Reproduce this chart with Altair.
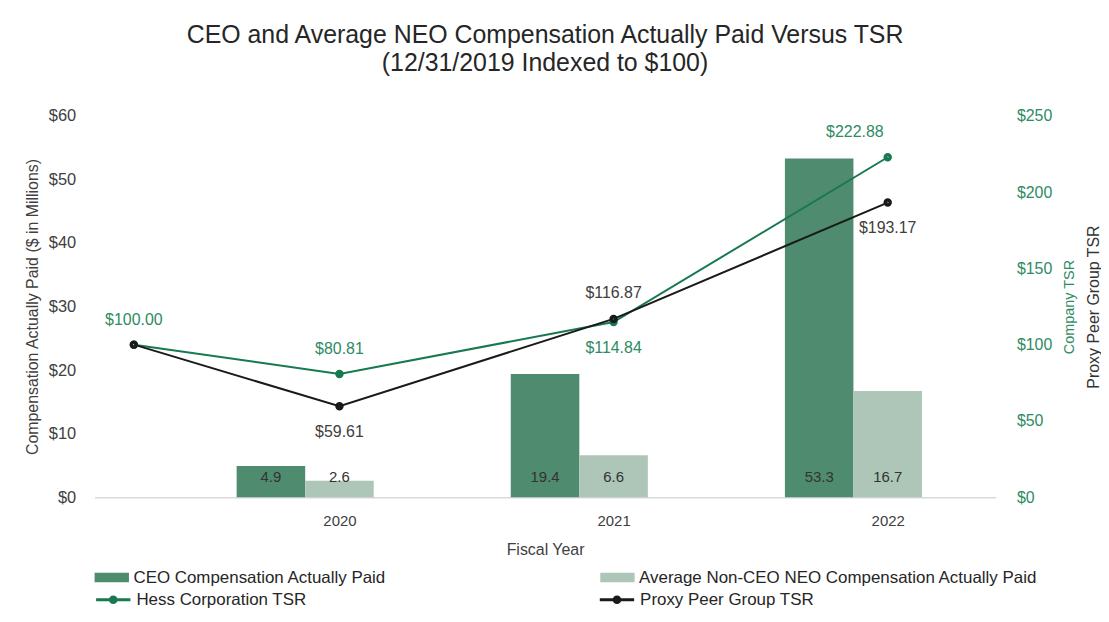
import altair as alt
import pandas as pd

# ---- data ----
years = [2020, 2021, 2022]
ceo_cap = [4.9, 19.4, 53.3]
neo_cap = [2.6, 6.6, 16.7]
tsr_years = [2019, 2020, 2021, 2022]
hess_tsr = [100.00, 80.81, 114.84, 222.88]
peer_tsr = [100.00, 59.61, 116.87, 193.17]

CEO = "CEO Compensation Actually Paid"
NEO = "Average Non-CEO NEO Compensation Actually Paid"
HESS = "Hess Corporation TSR"
PEER = "Proxy Peer Group TSR"

bars = pd.DataFrame(
    [{"year": y, "series": CEO, "value": v} for y, v in zip(years, ceo_cap)]
    + [{"year": y, "series": NEO, "value": v} for y, v in zip(years, neo_cap)]
)
tsr = pd.DataFrame(
    [{"year": y, "series": HESS, "value": v} for y, v in zip(tsr_years, hess_tsr)]
    + [{"year": y, "series": PEER, "value": v} for y, v in zip(tsr_years, peer_tsr)]
)

W, H = 905, 383
FONT = "Liberation Sans"
TXT = "#404040"
GREEN_TXT = "#2E8B62"
XDOM = [2019.125, 2022.375]

xscale = alt.Scale(domain=XDOM, nice=False, zero=False)
yl = alt.Scale(domain=[0, 60], nice=False)
yr = alt.Scale(domain=[0, 250], nice=False)

BAR_PATH = "M-1,-0.42L2,-0.42L2,0.42L-1,0.42Z"
LINE_PATH = "M-1,0L2,0M0.25,0A0.25,0.25 0 1,0 0.75,0A0.25,0.25 0 1,0 0.25,0Z"

# identical x axis in every layer so that the shared axis merges cleanly
x_axis = alt.Axis(values=years, format="d", title="Fiscal Year",
                  labelFontSize=15, labelColor=TXT, labelPadding=16,
                  titleFontSize=16, titleColor=TXT, titleFontWeight="normal",
                  titlePadding=14, ticks=False, grid=False,
                  domainColor="#D9D9D9", domainWidth=1.5, orient="bottom")

fill_enc = alt.Fill(
    "series:N",
    scale=alt.Scale(domain=[CEO, NEO], range=["#4F8B6F", "#ADC6B8"]),
    legend=alt.Legend(
        title=None, orient="none", legendX=0, legendY=452,
        direction="horizontal", columns=2, columnPadding=214,
        symbolType=BAR_PATH, symbolSize=529, symbolStrokeWidth=0,
        labelFontSize=17, labelColor="#262626",
        labelOffset=16, labelLimit=500, padding=0,
    ),
)

stroke_enc = alt.Stroke(
    "series:N",
    scale=alt.Scale(domain=[HESS, PEER], range=["#17794F", "#1A1A1A"]),
    legend=alt.Legend(
        title=None, orient="none", legendX=0, legendY=473,
        direction="horizontal", columns=2, columnPadding=287,
        symbolType=LINE_PATH, symbolSize=529, symbolStrokeWidth=3,
        labelFontSize=17, labelColor="#262626",
        labelOffset=16, labelLimit=500, padding=0,
    ),
)

# ---- bars (left axis) ----
bar_base = alt.Chart(bars).transform_calculate(
    x0=f"datum.year + (datum.series == '{CEO}' ? -0.375 : -0.125)",
    x1=f"datum.year + (datum.series == '{CEO}' ? -0.125 : 0.125)",
    xc=f"datum.year + (datum.series == '{CEO}' ? -0.25 : 0)",
    zero="0",
)

bar_layer = bar_base.mark_bar(orient="vertical").encode(
    x=alt.X("x0:Q", scale=xscale, axis=x_axis),
    x2=alt.X2("x1"),
    y=alt.Y("value:Q", scale=yl,
            axis=alt.Axis(values=[0, 10, 20, 30, 40, 50, 60],
                          labelExpr="'$' + datum.value",
                          title="Compensation Actually Paid ($ in Millions)",
                          labelFontSize=16.5, labelColor=TXT, labelPadding=19,
                          titleFontSize=16, titleColor=TXT, titleFontWeight="normal",
                          titlePadding=8, ticks=False, domain=False, grid=False)),
    y2=alt.Y2("zero"),
    fill=fill_enc,
)

bar_text = bar_base.mark_text(fontSize=15, color="#333333", dy=-20, baseline="middle").encode(
    x=alt.X("xc:Q", scale=xscale, axis=x_axis),
    y=alt.Y("zero:Q", scale=yl, axis=None),
    text=alt.Text("value:Q", format=".1f"),
)

# ---- TSR lines (right axis) ----
tsr_base = alt.Chart(tsr).transform_calculate(
    xp="datum.year == 2019 ? 2019.25 : datum.year",
    label="'$' + format(datum.value, '.2f')",
)

lines = tsr_base.mark_line(strokeWidth=2).encode(
    x=alt.X("xp:Q", scale=xscale, axis=x_axis),
    y=alt.Y("value:Q", scale=yr,
            axis=alt.Axis(orient="right", values=[0, 50, 100, 150, 200, 250],
                          labelExpr="'$' + datum.value", title="Company TSR",
                          labelFontSize=16, labelColor=GREEN_TXT, labelPadding=21,
                          titleFontSize=14.5, titleColor=GREEN_TXT, titleFontWeight="normal",
                          titleAngle=270, titleX=74, titleY=H / 2,
                          titleAlign="center", titleBaseline="middle",
                          ticks=False, domain=False, grid=False)),
    stroke=stroke_enc,
)

# points carry a second right-hand axis that only shows the peer-group title
points = tsr_base.mark_point(size=12, strokeWidth=5, filled=False, opacity=1).encode(
    x=alt.X("xp:Q", scale=xscale, axis=x_axis),
    y=alt.Y("value:Q", scale=yr,
            axis=alt.Axis(orient="right", labels=False, ticks=False, domain=False,
                          grid=False, title=PEER, titleFontSize=16,
                          titleColor="#333333", titleFontWeight="normal",
                          titleAngle=270, titleX=98, titleY=H / 2,
                          titleAlign="center", titleBaseline="middle")),
    stroke=stroke_enc,
)


def tsr_labels(series, yrs, col, dy, dx=0):
    return tsr_base.transform_filter(
        alt.FieldEqualPredicate(field="series", equal=series)
    ).transform_filter(
        alt.FieldOneOfPredicate(field="year", oneOf=yrs)
    ).mark_text(fontSize=16, color=col, dy=dy, dx=dx, baseline="middle").encode(
        x=alt.X("xp:Q", scale=xscale, axis=x_axis),
        y=alt.Y("value:Q", scale=yr, axis=None),
        text="label:N",
    )


labels = [
    tsr_labels(HESS, [2019, 2020], GREEN_TXT, -25),
    tsr_labels(HESS, [2022], GREEN_TXT, -25, -33),
    tsr_labels(HESS, [2021], GREEN_TXT, 26),
    tsr_labels(PEER, [2021], TXT, -26),
    tsr_labels(PEER, [2020, 2022], TXT, 26),
]

chart = alt.layer(bar_layer, bar_text, lines, points, *labels).resolve_scale(
    y="independent"
).properties(
    width=W,
    height=H,
    padding={"left": 87, "top": 107, "right": 106, "bottom": 118},
    autosize=alt.AutoSizeParams(type="none"),
    background="white",
    title=alt.Title(
        ["CEO and Average NEO Compensation Actually Paid Versus TSR",
         "(12/31/2019 Indexed to $100)"],
        fontSize=25, fontWeight="normal", color="#262626", anchor="middle",
        lineHeight=28, offset=32, frame="group",
    ),
).configure(
    font=FONT,
).configure_view(stroke=None)

chart.save("out.html", embed_options={"renderer": "svg", "actions": False})
